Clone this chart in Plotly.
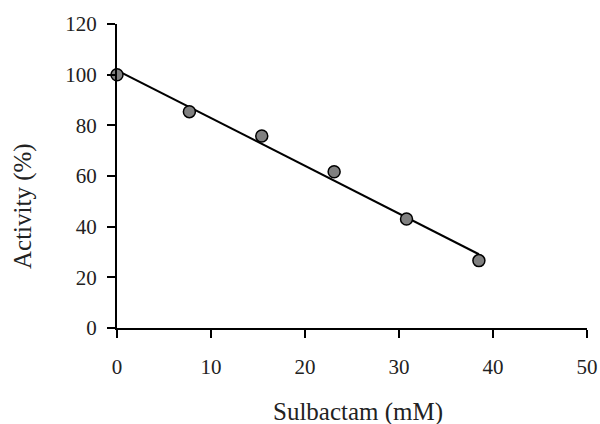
import numpy as np
import plotly.graph_objects as go

sulbactam_mM = [0, 7.7, 15.4, 23.1, 30.8, 38.5]
activity_pct = [100, 85.4, 75.8, 61.7, 43.0, 26.6]
x_ticks = [0, 10, 20, 30, 40, 50]
y_ticks = [0, 20, 40, 60, 80, 100, 120]

slope, intercept = np.polyfit(sulbactam_mM, activity_pct, 1)
fit_x = [sulbactam_mM[0], sulbactam_mM[-1]]
fit_y = [intercept + slope * v for v in fit_x]

FONT = "Liberation Serif"
L, R, T, B = 117, 13, 24, 96
W, H = 600, 424
pw, ph = W - L - R, H - T - B

fig = go.Figure()
fig.add_trace(go.Scatter(x=fit_x, y=fit_y, mode="lines",
                         line=dict(color="black", width=2),
                         cliponaxis=False, showlegend=False, hoverinfo="skip"))
fig.add_trace(go.Scatter(x=sulbactam_mM, y=activity_pct, mode="markers",
                         marker=dict(size=12, color="#808080",
                                     line=dict(color="black", width=1.5)),
                         cliponaxis=False, showlegend=False))

fig.update_layout(
    width=W, height=H,
    margin=dict(l=L, r=R, t=T, b=B, autoexpand=False),
    plot_bgcolor="white", paper_bgcolor="white",
    font=dict(family=FONT, size=21, color="#222"),
    xaxis=dict(range=[0, 50], tickvals=x_ticks, showgrid=False, zeroline=False,
               showline=True, linecolor="black", linewidth=2, automargin=False,
               ticks="outside", ticklen=8, tickwidth=2, tickcolor="black",
               tickfont=dict(family=FONT, size=21, color="#222"),
               ticklabelstandoff=11),
    yaxis=dict(range=[0, 120], tickvals=y_ticks, showgrid=False, zeroline=False,
               showline=True, linecolor="black", linewidth=2, automargin=False,
               ticks="outside", ticklen=8, tickwidth=2, tickcolor="black",
               tickfont=dict(family=FONT, size=21, color="#222"),
               ticklabelstandoff=6),
    annotations=[
        dict(text="Sulbactam (mM)", x=(358 - L) / pw, y=(H - 412 - B) / ph,
             xref="paper", yref="paper", xanchor="center", yanchor="middle",
             showarrow=False, font=dict(family=FONT, size=25, color="#222")),
        dict(text="Activity (%)", x=(23 - L) / pw, y=(H - 206 - B) / ph,
             xref="paper", yref="paper", xanchor="center", yanchor="middle",
             textangle=-90,
             showarrow=False, font=dict(family=FONT, size=25, color="#222")),
    ],
)

fig.write_html("out.html")
